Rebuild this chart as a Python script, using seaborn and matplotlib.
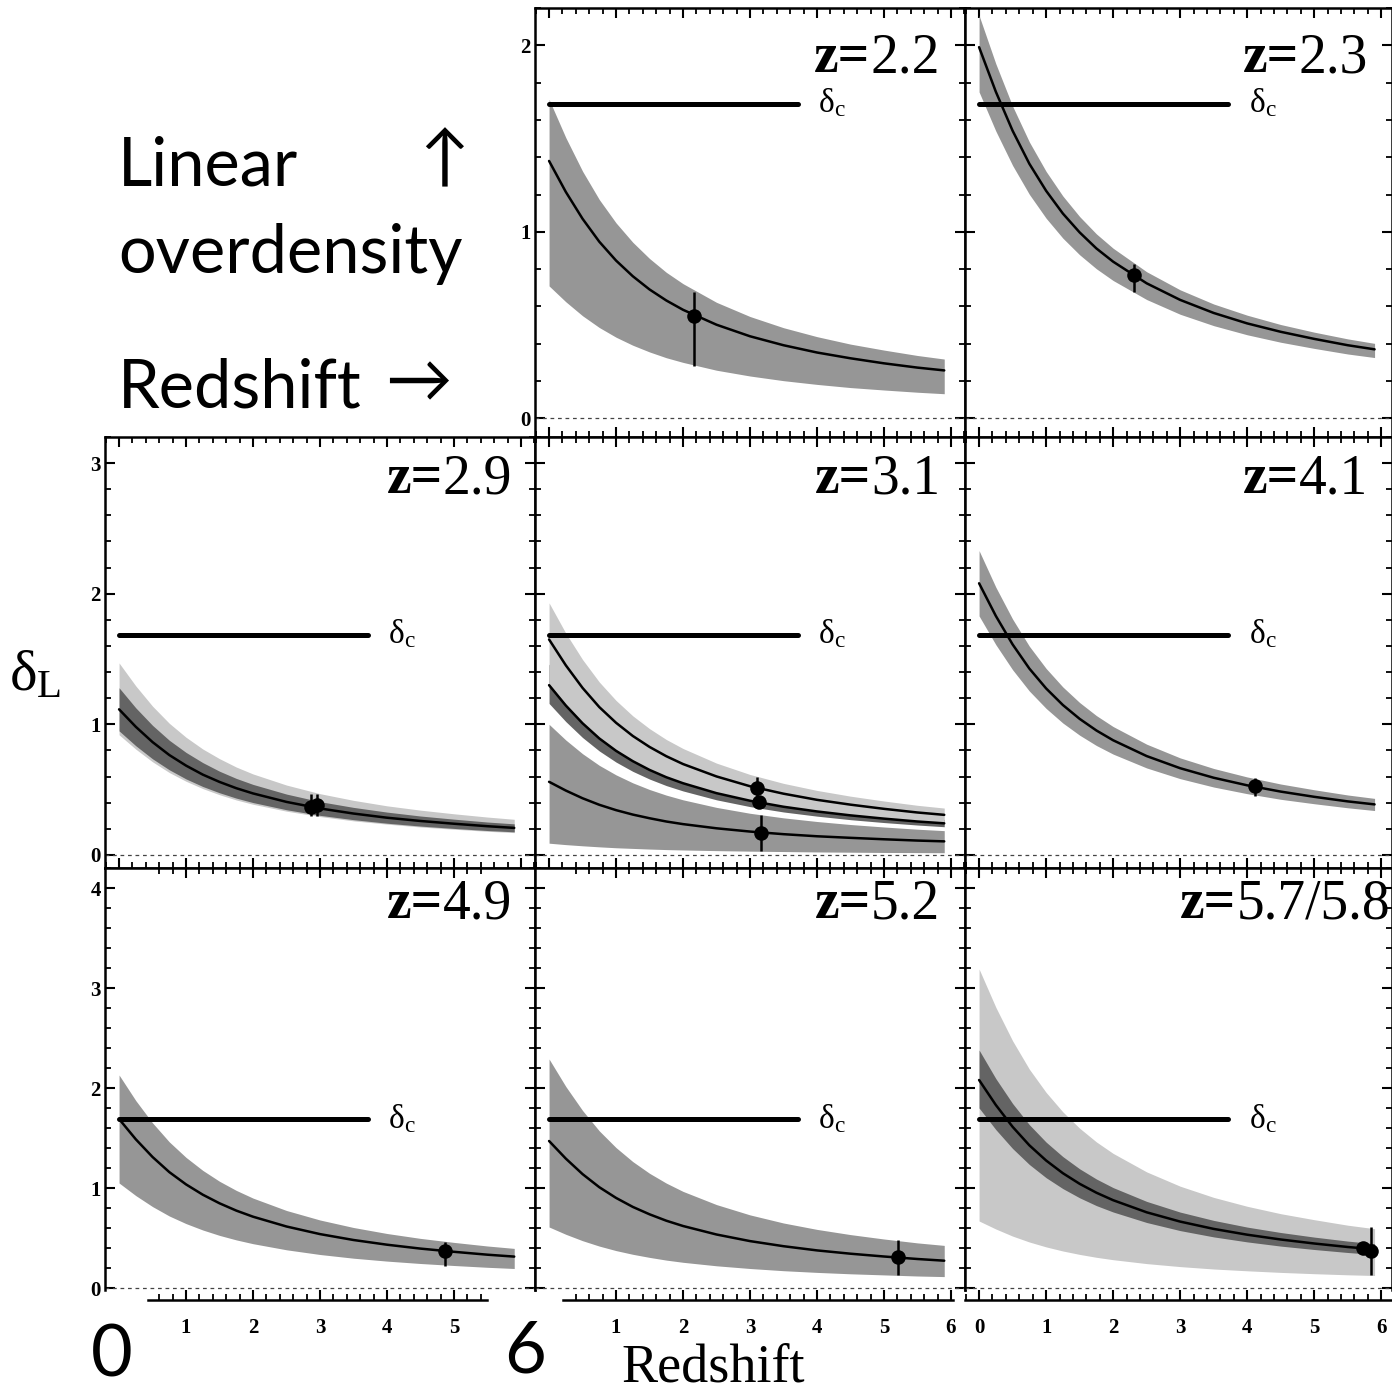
import numpy as np
import matplotlib
matplotlib.use("Agg")
import matplotlib.pyplot as plt
import seaborn as sns
from matplotlib.ticker import MultipleLocator, FixedLocator

sns.set_theme(style="ticks")
plt.rcParams['font.family'] = ['Liberation Serif', 'DejaVu Serif']
plt.rcParams['text.color'] = 'black'
plt.rcParams['axes.labelcolor'] = 'black'
plt.rcParams['xtick.color'] = 'black'
plt.rcParams['ytick.color'] = 'black'
plt.rcParams['mathtext.fontset'] = 'custom'
plt.rcParams['mathtext.rm'] = 'Liberation Serif'
plt.rcParams['mathtext.it'] = 'Liberation Serif:italic'
plt.rcParams['mathtext.bf'] = 'Liberation Serif:bold'

# ---------------- data ----------------
redshift = [0, 0.25, 0.5, 0.75, 1, 1.25, 1.5, 1.75, 2, 2.5, 3, 3.5, 4, 4.5, 5, 5.5, 5.9]
delta_c = 1.686
delta_c_span = [0, 3.72]

# z = 2.2
z22_mid = [1.380, 1.214, 1.070, 0.947, 0.846, 0.762, 0.691, 0.632, 0.582, 0.502, 0.440, 0.392, 0.353, 0.322, 0.295, 0.272, 0.257]
z22_hi = [1.710, 1.505, 1.325, 1.173, 1.048, 0.944, 0.857, 0.783, 0.722, 0.622, 0.546, 0.486, 0.438, 0.398, 0.366, 0.337, 0.318]
z22_lo = [0.710, 0.625, 0.550, 0.487, 0.435, 0.392, 0.356, 0.325, 0.300, 0.258, 0.227, 0.202, 0.182, 0.165, 0.152, 0.140, 0.132]
z22_pts_x = [2.16]; z22_pts_y = [0.55]; z22_err_lo = [0.28]; z22_err_hi = [0.68]

# z = 2.3
z23_mid = [1.990, 1.751, 1.542, 1.365, 1.220, 1.098, 0.997, 0.911, 0.840, 0.724, 0.635, 0.565, 0.509, 0.464, 0.426, 0.392, 0.370]
z23_hi = [2.160, 1.901, 1.674, 1.482, 1.324, 1.192, 1.082, 0.989, 0.912, 0.786, 0.689, 0.613, 0.553, 0.503, 0.462, 0.426, 0.402]
z23_lo = [1.750, 1.540, 1.356, 1.201, 1.073, 0.966, 0.877, 0.802, 0.739, 0.637, 0.558, 0.497, 0.448, 0.408, 0.375, 0.345, 0.326]
z23_pts_x = [2.31]; z23_pts_y = [0.77]; z23_err_lo = [0.68]; z23_err_hi = [0.83]

# z = 2.9
z29_mid = [1.115, 0.981, 0.864, 0.765, 0.684, 0.615, 0.559, 0.511, 0.471, 0.406, 0.356, 0.317, 0.285, 0.260, 0.239, 0.220, 0.207]
z29_dark_hi = [1.280, 1.126, 0.992, 0.878, 0.785, 0.707, 0.641, 0.586, 0.540, 0.466, 0.408, 0.364, 0.328, 0.298, 0.274, 0.252, 0.238]
z29_dark_lo = [0.950, 0.836, 0.736, 0.652, 0.582, 0.524, 0.476, 0.435, 0.401, 0.346, 0.303, 0.270, 0.243, 0.221, 0.203, 0.187, 0.177]
z29_light_hi = [1.470, 1.294, 1.139, 1.008, 0.901, 0.811, 0.737, 0.673, 0.620, 0.535, 0.469, 0.418, 0.376, 0.343, 0.315, 0.290, 0.273]
z29_light_lo = [0.920, 0.810, 0.713, 0.631, 0.564, 0.508, 0.461, 0.421, 0.388, 0.335, 0.294, 0.261, 0.236, 0.214, 0.197, 0.181, 0.171]
z29_pts_x = [2.87, 2.95]; z29_pts_y = [0.37, 0.385]; z29_err_lo = [0.30, 0.30]; z29_err_hi = [0.47, 0.47]

# z = 3.1 (three objects)
z31a_mid = [1.650, 1.452, 1.279, 1.132, 1.012, 0.911, 0.827, 0.756, 0.696, 0.601, 0.526, 0.469, 0.422, 0.385, 0.353, 0.325, 0.307]
z31a_hi = [1.930, 1.698, 1.496, 1.324, 1.183, 1.065, 0.967, 0.884, 0.815, 0.703, 0.616, 0.548, 0.494, 0.450, 0.413, 0.380, 0.359]
z31a_lo = [1.310, 1.153, 1.015, 0.899, 0.803, 0.723, 0.656, 0.600, 0.553, 0.477, 0.418, 0.372, 0.335, 0.305, 0.280, 0.258, 0.244]
z31b_mid = [1.300, 1.144, 1.008, 0.892, 0.797, 0.718, 0.651, 0.595, 0.549, 0.473, 0.415, 0.369, 0.333, 0.303, 0.278, 0.256, 0.242]
z31b_hi = [1.460, 1.285, 1.132, 1.002, 0.895, 0.806, 0.732, 0.669, 0.616, 0.531, 0.466, 0.415, 0.374, 0.340, 0.312, 0.288, 0.272]
z31b_lo = [1.160, 1.021, 0.899, 0.796, 0.711, 0.640, 0.581, 0.531, 0.490, 0.422, 0.370, 0.329, 0.297, 0.270, 0.248, 0.229, 0.216]
z31c_mid = [0.560, 0.493, 0.434, 0.384, 0.343, 0.309, 0.281, 0.256, 0.236, 0.204, 0.179, 0.159, 0.143, 0.131, 0.120, 0.110, 0.104]
z31c_hi = [1.000, 0.880, 0.775, 0.686, 0.613, 0.552, 0.501, 0.458, 0.422, 0.364, 0.319, 0.284, 0.256, 0.233, 0.214, 0.197, 0.186]
z31c_lo = [0.090, 0.079, 0.070, 0.062, 0.055, 0.050, 0.045, 0.041, 0.038, 0.033, 0.029, 0.026, 0.023, 0.021, 0.019, 0.018, 0.017]
z31_pts_x = [3.11, 3.14, 3.17]; z31_pts_y = [0.515, 0.405, 0.169]
z31_err_lo = [0.444, 0.405, 0.028]; z31_err_hi = [0.597, 0.405, 0.303]

# z = 4.1
z41_mid = [2.080, 1.830, 1.612, 1.427, 1.275, 1.148, 1.042, 0.953, 0.878, 0.757, 0.664, 0.591, 0.533, 0.485, 0.445, 0.410, 0.387]
z41_hi = [2.330, 2.050, 1.806, 1.598, 1.428, 1.286, 1.167, 1.067, 0.983, 0.848, 0.743, 0.662, 0.597, 0.543, 0.499, 0.459, 0.433]
z41_lo = [1.830, 1.610, 1.418, 1.255, 1.122, 1.010, 0.917, 0.838, 0.772, 0.666, 0.584, 0.520, 0.469, 0.426, 0.392, 0.361, 0.340]
z41_pts_x = [4.12]; z41_pts_y = [0.526]; z41_err_lo = [0.454]; z41_err_hi = [0.59]

# z = 4.9
z49_mid = [1.690, 1.487, 1.310, 1.159, 1.036, 0.933, 0.847, 0.774, 0.713, 0.615, 0.539, 0.480, 0.433, 0.394, 0.362, 0.333, 0.314]
z49_hi = [2.130, 1.874, 1.651, 1.461, 1.306, 1.176, 1.067, 0.976, 0.899, 0.775, 0.680, 0.605, 0.545, 0.496, 0.456, 0.420, 0.396]
z49_lo = [1.050, 0.924, 0.814, 0.720, 0.644, 0.580, 0.526, 0.481, 0.443, 0.382, 0.335, 0.298, 0.269, 0.245, 0.225, 0.207, 0.195]
z49_pts_x = [4.87]; z49_pts_y = [0.373]; z49_err_lo = [0.223]; z49_err_hi = [0.457]

# z = 5.2
z52_mid = [1.470, 1.294, 1.139, 1.008, 0.901, 0.811, 0.737, 0.673, 0.620, 0.535, 0.469, 0.418, 0.376, 0.343, 0.315, 0.290, 0.273]
z52_hi = [2.290, 2.015, 1.775, 1.571, 1.404, 1.264, 1.147, 1.049, 0.966, 0.834, 0.731, 0.650, 0.586, 0.534, 0.490, 0.451, 0.426]
z52_lo = [0.610, 0.537, 0.473, 0.419, 0.374, 0.337, 0.306, 0.279, 0.257, 0.222, 0.195, 0.173, 0.156, 0.142, 0.131, 0.120, 0.114]
z52_pts_x = [5.21]; z52_pts_y = [0.31]; z52_err_lo = [0.127]; z52_err_hi = [0.477]

# z = 5.7 / 5.8
z57_mid = [2.080, 1.830, 1.612, 1.427, 1.275, 1.148, 1.042, 0.953, 0.878, 0.757, 0.664, 0.591, 0.533, 0.485, 0.445, 0.410, 0.387]
z57_dark_hi = [2.380, 2.094, 1.845, 1.633, 1.459, 1.314, 1.192, 1.090, 1.004, 0.866, 0.759, 0.676, 0.609, 0.555, 0.509, 0.469, 0.443]
z57_dark_lo = [1.800, 1.584, 1.395, 1.235, 1.103, 0.994, 0.902, 0.824, 0.760, 0.655, 0.574, 0.511, 0.461, 0.419, 0.385, 0.355, 0.335]
z57_light_hi = [3.190, 2.807, 2.472, 2.188, 1.956, 1.761, 1.598, 1.461, 1.346, 1.161, 1.018, 0.906, 0.817, 0.743, 0.683, 0.628, 0.593]
z57_light_lo = [0.670, 0.590, 0.519, 0.460, 0.411, 0.370, 0.336, 0.307, 0.283, 0.244, 0.214, 0.190, 0.172, 0.156, 0.143, 0.132, 0.125]
z57_pts_x = [5.72, 5.84]; z57_pts_y = [0.40, 0.375]; z57_err_lo = [0.40, 0.127]; z57_err_hi = [0.40, 0.61]

panel_labels = ["2.2", "2.3", "2.9", "3.1", "4.1", "4.9", "5.2", "5.7/5.8"]

LIGHT, MED, DARK = "#c8c8c8", "#969696", "#646464"

# ---------------- figure ----------------
W, H = 1392, 1396
fig = plt.figure(figsize=(W / 100, H / 100), dpi=100)

def add_ax(x0, y0, w, h):
    return fig.add_axes([x0 / W, 1 - (y0 + h) / H, w / W, h / H])

cols = [(105, 430), (535, 430), (965, 427)]
rows = [(8, 429, (-0.1, 2.2)), (437, 431, (-0.1, 3.2)), (868, 422, (-0.02, 4.2))]


def style_axes(ax, ylim, xmax):
    ax.set_xlim(-0.21, xmax)
    ax.set_ylim(*ylim)
    ax.set_facecolor("white")
    for s in ax.spines.values():
        s.set_visible(True)
        s.set_linewidth(1.8)
        s.set_color("black")
    ax.xaxis.set_major_locator(MultipleLocator(1))
    ax.xaxis.set_minor_locator(MultipleLocator(0.2))
    ax.yaxis.set_major_locator(MultipleLocator(1))
    ax.yaxis.set_minor_locator(MultipleLocator(0.2))
    ax.tick_params(which="both", direction="in", top=True, right=True,
                   bottom=True, left=True, labelbottom=False, labelleft=False,
                   colors="black")
    ax.tick_params(which="major", length=7, width=1.5)
    ax.tick_params(which="minor", length=4.5, width=1.3)
    ax.grid(False)
    ax.set_xlabel("")
    ax.set_ylabel("")
    ax.axhline(0, color="#444444", lw=0.9, ls=(0, (3, 3)), zorder=1)


def draw_common(ax, label, xr):
    sns.lineplot(x=delta_c_span, y=[delta_c, delta_c], ax=ax, color="black",
                 lw=3.6, zorder=6, legend=False)
    ax.annotate(r"$\mathrm{δ}_{\mathrm{c}}$", xy=(4.02, delta_c), xytext=(0, -6),
                textcoords="offset points", ha="left", va="baseline", fontsize=24,
                zorder=7)
    num = ax.text(xr[0], xr[1], label, transform=ax.transAxes, ha="right",
                  va="bottom", fontsize=40, fontweight="normal")
    ax.annotate("z=", xy=(0, 0), xycoords=num, ha="right", va="bottom",
                fontsize=40, fontweight="bold")


def band(ax, lo, hi, color, z=2):
    ax.fill_between(redshift, lo, hi, color=color, lw=0, zorder=z)


def curve(ax, y):
    sns.lineplot(x=redshift, y=y, ax=ax, color="black", lw=1.8, zorder=8,
                 legend=False)


def points(ax, px, py, elo, ehi):
    ax.vlines(px, elo, ehi, color="black", lw=1.8, zorder=9)
    sns.scatterplot(x=px, y=py, ax=ax, color="black", s=110, edgecolor="black",
                    linewidth=0, zorder=10, legend=False)


axes = {}
positions = [(0, 1), (0, 2), (1, 0), (1, 1), (1, 2), (2, 0), (2, 1), (2, 2)]
for (r, c) in positions:
    x0, w = cols[c]
    y0, h, ylim = rows[r]
    ax = add_ax(x0, y0, w, h)
    style_axes(ax, ylim, 6.21 if c < 2 else 6.16)
    axes[(r, c)] = ax

label_pos = {
    (0, 1): (0.942, 0.822), (0, 2): (0.944, 0.822),
    (1, 0): (0.947, 0.842), (1, 1): (0.942, 0.842), (1, 2): (0.944, 0.842),
    (2, 0): (0.947, 0.852), (2, 1): (0.942, 0.852), (2, 2): (0.995, 0.852),
}

# z=2.2
ax = axes[(0, 1)]
band(ax, z22_lo, z22_hi, MED)
curve(ax, z22_mid)
points(ax, z22_pts_x, z22_pts_y, z22_err_lo, z22_err_hi)
draw_common(ax, panel_labels[0], label_pos[(0, 1)])

# z=2.3
ax = axes[(0, 2)]
band(ax, z23_lo, z23_hi, MED)
curve(ax, z23_mid)
points(ax, z23_pts_x, z23_pts_y, z23_err_lo, z23_err_hi)
draw_common(ax, panel_labels[1], label_pos[(0, 2)])

# z=2.9
ax = axes[(1, 0)]
band(ax, z29_light_lo, z29_light_hi, LIGHT, 2)
band(ax, z29_dark_lo, z29_dark_hi, DARK, 3)
curve(ax, z29_mid)
points(ax, z29_pts_x, z29_pts_y, z29_err_lo, z29_err_hi)
draw_common(ax, panel_labels[2], label_pos[(1, 0)])

# z=3.1
ax = axes[(1, 1)]
band(ax, z31c_lo, z31c_hi, MED, 2)
band(ax, z31b_lo, z31b_hi, DARK, 3)
band(ax, z31a_lo, z31a_hi, LIGHT, 4)
curve(ax, z31a_mid)
curve(ax, z31b_mid)
curve(ax, z31c_mid)
points(ax, z31_pts_x, z31_pts_y, z31_err_lo, z31_err_hi)
draw_common(ax, panel_labels[3], label_pos[(1, 1)])

# z=4.1
ax = axes[(1, 2)]
band(ax, z41_lo, z41_hi, MED)
curve(ax, z41_mid)
points(ax, z41_pts_x, z41_pts_y, z41_err_lo, z41_err_hi)
draw_common(ax, panel_labels[4], label_pos[(1, 2)])

# z=4.9
ax = axes[(2, 0)]
band(ax, z49_lo, z49_hi, MED)
curve(ax, z49_mid)
points(ax, z49_pts_x, z49_pts_y, z49_err_lo, z49_err_hi)
draw_common(ax, panel_labels[5], label_pos[(2, 0)])

# z=5.2
ax = axes[(2, 1)]
band(ax, z52_lo, z52_hi, MED)
curve(ax, z52_mid)
points(ax, z52_pts_x, z52_pts_y, z52_err_lo, z52_err_hi)
draw_common(ax, panel_labels[6], label_pos[(2, 1)])

# z=5.7/5.8
ax = axes[(2, 2)]
band(ax, z57_light_lo, z57_light_hi, LIGHT, 2)
band(ax, z57_dark_lo, z57_dark_hi, DARK, 3)
curve(ax, z57_mid)
points(ax, z57_pts_x, z57_pts_y, z57_err_lo, z57_err_hi)
draw_common(ax, panel_labels[7], label_pos[(2, 2)])

# ---------------- tick labels ----------------
tick_font = dict(fontsize=15, fontweight="bold", family="Liberation Serif",
                 color="black")

def ylabels(ax, vals):
    ax.set_yticks(vals)
    ax.set_yticklabels([str(v) for v in vals], **tick_font)
    ax.tick_params(axis="y", labelleft=True, pad=3)

ylabels(axes[(0, 1)], [0, 1, 2])
ylabels(axes[(1, 0)], [0, 1, 2, 3])
ylabels(axes[(2, 0)], [0, 1, 2, 3, 4])

bottom_specs = {
    0: ([1, 2, 3, 4, 5], (0.43, 5.49), np.arange(0.6, 5.45, 0.2)),
    1: ([1, 2, 3, 4, 5, 6], (0.21, 6.03), np.arange(0.4, 6.05, 0.2)),
    2: ([0, 1, 2, 3, 4, 5, 6], (-0.21, 6.16), np.arange(-0.2, 6.15, 0.2)),
}
for c, (maj, bounds, minor) in bottom_specs.items():
    ax = axes[(2, c)]
    ax.spines["bottom"].set_position(("outward", 7))
    ax.spines["bottom"].set_bounds(*bounds)
    ax.xaxis.set_major_locator(FixedLocator(maj))
    ax.xaxis.set_minor_locator(FixedLocator(np.round(minor, 2)))
    ax.set_xticks(maj)
    ax.set_xticklabels([str(v) for v in maj], **tick_font)
    ax.tick_params(axis="x", labelbottom=True, pad=13)

# ---------------- free text ----------------
sans = ["Lato", "DejaVu Sans"]
fig.text(118 / W, 1 - 185 / H, "Linear", family=sans, fontsize=48, va="baseline")
fig.text(118 / W, 1 - 273 / H, "overdensity", family=sans, fontsize=48, va="baseline")
fig.text(118 / W, 1 - 407 / H, "Redshift", family=sans, fontsize=48, va="baseline")
fig.text(444 / W, 1 - 160 / H, "↑", family=sans, fontsize=48, ha="center", va="center")
fig.text(418 / W, 1 - 383 / H, "→", family=sans, fontsize=48, ha="center", va="center")
fig.text(112 / W, 1 - 1356 / H, "0", family=sans, fontsize=52, ha="center", va="center")
fig.text(525 / W, 1 - 1352 / H, "6", family=sans, fontsize=52, ha="center", va="center")

fig.text(713 / W, 1 - 1381 / H, "Redshift", fontsize=39, ha="center", va="baseline")
fig.text(9 / W, 1 - 690 / H, r"$\mathrm{δ}_{\mathrm{L}}$", fontsize=42, ha="left",
         va="baseline")

fig.savefig("out.png", dpi=100, facecolor="white")
